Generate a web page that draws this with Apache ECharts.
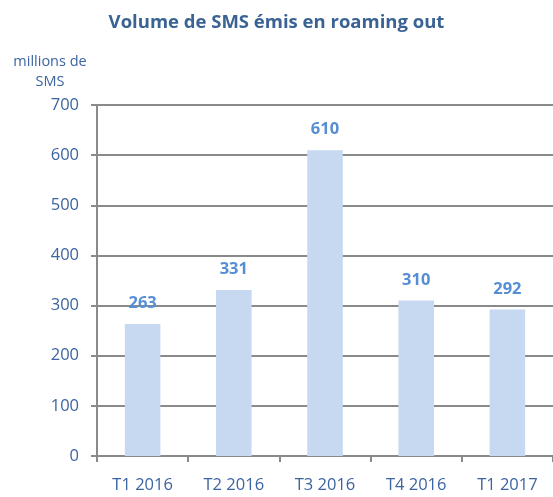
<!DOCTYPE html>
<html>
<head>
<meta charset="utf-8">
<script src="https://cdn.jsdelivr.net/npm/echarts@6/dist/echarts.min.js"></script>
<style>
  html, body { margin: 0; padding: 0; background: #fff; }
  #chart { width: 553px; height: 497px; }
</style>
</head>
<body>
<div id="chart"></div>
<script>
// Quarterly volume of SMS sent while roaming abroad (millions)
const categories = ['T1 2016', 'T2 2016', 'T3 2016', 'T4 2016', 'T1 2017'];
const smsVolumes = [263, 331, 610, 310, 292];
const yTicks = { min: 0, max: 700, interval: 100 };

const font = '"Open Sans", "Noto Sans", sans-serif';
const axisBlue = '#3b64a0';
const gridGray = '#8a8a8a';

const chart = echarts.init(document.getElementById('chart'), null, { renderer: 'canvas' });
chart.setOption({
  animation: false,
  backgroundColor: '#ffffff',
  title: {
    text: 'Volume de SMS émis en roaming out',
    left: 'center',
    top: 8,
    textStyle: { fontFamily: font, fontSize: 18.5, fontWeight: 'bold', color: '#3a6394' }
  },
  grid: { left: 97, right: 0, top: 105, bottom: 41, containLabel: false },
  xAxis: {
    type: 'category',
    data: categories,
    axisLine: { lineStyle: { color: gridGray, width: 2 } },
    axisTick: { show: true, length: 6, alignWithLabel: false, lineStyle: { color: gridGray, width: 2 } },
    axisLabel: { fontFamily: font, fontSize: 16.5, color: axisBlue, margin: 21 }
  },
  yAxis: {
    type: 'value',
    min: yTicks.min,
    max: yTicks.max,
    interval: yTicks.interval,
    name: 'millions de\nSMS',
    nameLocation: 'end',
    nameGap: 13,
    nameTextStyle: { fontFamily: font, fontSize: 14.5, color: axisBlue, align: 'center', padding: [0, 0, 0, -94], lineHeight: 20 },
    axisLine: { show: true, lineStyle: { color: gridGray, width: 2 } },
    axisTick: { show: true, length: 6, lineStyle: { color: gridGray, width: 2 } },
    axisLabel: { fontFamily: font, fontSize: 16.5, color: axisBlue, margin: 18 },
    splitLine: { show: true, lineStyle: { color: gridGray, width: 2 } }
  },
  series: [{
    type: 'bar',
    data: smsVolumes,
    barWidth: '39%',
    itemStyle: { color: '#c6d9f1' },
    label: {
      show: true,
      position: 'top',
      distance: 12,
      fontFamily: font,
      fontSize: 16.5,
      fontWeight: 'bold',
      color: '#558ed5'
    }
  }]
});
</script>
</body>
</html>
